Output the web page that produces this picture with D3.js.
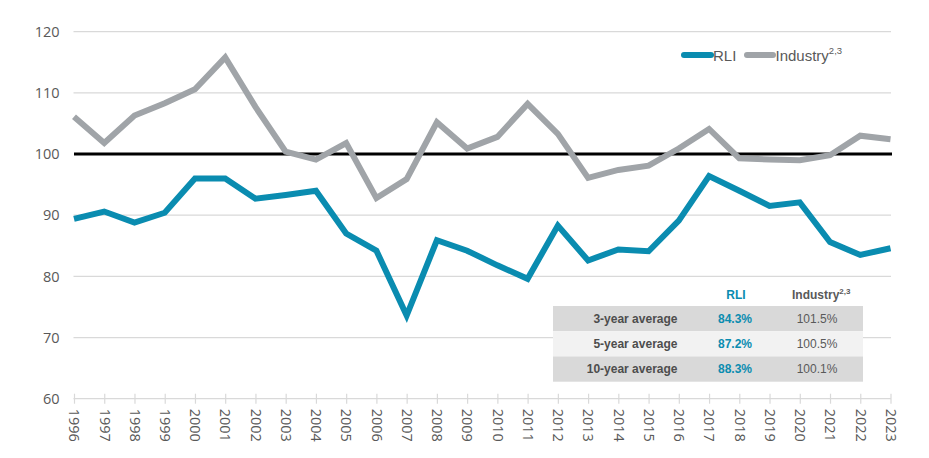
<!DOCTYPE html>
<html>
    <head>
        <meta charset="utf-8">
        <title>RLI vs Industry</title>
        <script src="https://d3js.org/d3.v7.min.js"></script>
        <style>
            body { margin: 0; background: #fff; }
        </style>
    </head>
    <body>
        <div id="main"></div>
        <script>
            // years on the x axis
            var years = d3.range(1996, 2024)
            // series values
            var rli = [89.4, 90.6, 88.8, 90.4, 96.0, 96.0, 92.7, 93.3, 94.0, 87.0,
                       84.2, 73.6, 85.9, 84.2, 81.8, 79.6, 88.3, 82.6, 84.4, 84.1,
                       89.1, 96.4, 94.0, 91.5, 92.1, 85.6, 83.5, 84.6]
            var industry = [106.1, 101.8, 106.3, 108.3, 110.6, 115.8, 107.7, 100.4, 99.1, 101.8,
                            92.8, 95.9, 105.2, 100.9, 102.8, 108.2, 103.3, 96.1, 97.4, 98.1,
                            100.9, 104.1, 99.3, 99.1, 99.0, 99.8, 103.0, 102.4]
            var yTicks = [60, 70, 80, 90, 100, 110, 120]
            // averages table
            var tableRows = ["3-year average", "5-year average", "10-year average"]
            var tableRli = ["84.3%", "87.2%", "88.3%"]
            var tableInd = ["101.5%", "100.5%", "100.1%"]

            var blue = "#0a8cb0"
            var grey = "#a0a4a8"
            var textCol = "#595959"

            var svg = d3.select("#main")
                .append("svg")
                .attr("width", 929)
                .attr("height", 458)

            var x = d3.scalePoint()
                .domain(years)
                .range([74, 890.5])
            var y = d3.scaleLinear()
                .domain([60, 120])
                .range([398.7, 31.7])

            // gridlines
            svg.append("g")
                .selectAll("line")
                .data(yTicks.filter(function(d) { return d != 60 && d != 100 }))
                .enter()
                .append("line")
                .attr("x1", 73.5)
                .attr("x2", 891)
                .attr("y1", function(d) { return y(d) })
                .attr("y2", function(d) { return y(d) })
                .attr("stroke", "#d9d9d9")
                .attr("stroke-width", 1.2)

            // y labels
            svg.append("g")
                .selectAll("text")
                .data(yTicks)
                .enter()
                .append("text")
                .attr("x", 59.5)
                .attr("y", function(d) { return y(d) })
                .attr("dy", "0.36em")
                .attr("text-anchor", "end")
                .attr("font-family", "Open Sans")
                .attr("font-size", "14.5px")
                .attr("fill", textCol)
                .text(function(d) { return d })

            // x axis
            var xAxis = svg.append("g")
                .attr("transform", "translate(0," + y(60) + ")")
                .call(d3.axisBottom(x).tickSize(5).tickSizeOuter(0).tickPadding(0))
            xAxis.select(".domain").attr("stroke", "#d9d9d9").attr("stroke-width", 1.2)
                .attr("d", "M73.5,0H891")
            xAxis.selectAll(".tick line")
                .attr("stroke", "#d9d9d9")
                .attr("stroke-width", 1.2)
                .attr("y1", -5)
            xAxis.selectAll(".tick text")
                .attr("transform", "rotate(90)")
                .attr("x", 10)
                .attr("y", 0)
                .attr("dy", "0.36em")
                .style("text-anchor", "start")
                .attr("font-family", "Open Sans")
                .attr("font-size", "14.5px")
                .attr("fill", textCol)

            // 100 reference line
            svg.append("line")
                .attr("x1", 74)
                .attr("x2", 892)
                .attr("y1", y(100))
                .attr("y2", y(100))
                .attr("stroke", "#000")
                .attr("stroke-width", 3)

            var line = d3.line()
                .x(function(d, i) { return x(years[i]) })
                .y(function(d) { return y(d) })

            svg.append("path")
                .datum(industry)
                .attr("d", line)
                .attr("fill", "none")
                .attr("stroke", grey)
                .attr("stroke-width", 6)
                .attr("stroke-linejoin", "miter")

            svg.append("path")
                .datum(rli)
                .attr("d", line)
                .attr("fill", "none")
                .attr("stroke", blue)
                .attr("stroke-width", 6)
                .attr("stroke-linejoin", "miter")

            // legend
            var legend = svg.append("g").attr("font-family", "Liberation Sans").attr("font-size", "15px").attr("fill", textCol)
            legend.append("line").attr("x1", 684).attr("x2", 711).attr("y1", 55).attr("y2", 55)
                .attr("stroke", blue).attr("stroke-width", 6).attr("stroke-linecap", "round")
            legend.append("text").attr("x", 713).attr("y", 60.5).text("RLI")
            legend.append("line").attr("x1", 747).attr("x2", 773).attr("y1", 55).attr("y2", 55)
                .attr("stroke", grey).attr("stroke-width", 6).attr("stroke-linecap", "round")
            var indLabel = legend.append("text").attr("x", 775.5).attr("y", 60.5)
            indLabel.append("tspan").text("Industry")
            indLabel.append("tspan").attr("font-size", "9.5px").attr("dy", -7).text("2,3")

            // averages table
            var rowY = d3.scaleBand()
                .domain(tableRows)
                .range([306, 381.7])
            var table = svg.append("g").attr("font-family", "Liberation Sans").attr("font-size", "12px")
            table.selectAll("rect")
                .data(tableRows)
                .enter()
                .append("rect")
                .attr("x", 553)
                .attr("width", 310)
                .attr("y", function(d) { return rowY(d) })
                .attr("height", rowY.bandwidth())
                .attr("fill", function(d, i) { return i == 1 ? "#f2f2f2" : "#d9d9d9" })
            table.selectAll("text.lab")
                .data(tableRows)
                .enter()
                .append("text")
                .attr("class", "lab")
                .attr("x", 677.5)
                .attr("y", function(d) { return rowY(d) + rowY.bandwidth() / 2 })
                .attr("dy", "0.36em")
                .attr("text-anchor", "end")
                .attr("font-weight", "bold")
                .attr("fill", "#4d4d4d")
                .text(function(d) { return d })
            table.selectAll("text.rli")
                .data(tableRli)
                .enter()
                .append("text")
                .attr("class", "rli")
                .attr("x", 735)
                .attr("y", function(d, i) { return rowY(tableRows[i]) + rowY.bandwidth() / 2 })
                .attr("dy", "0.36em")
                .attr("text-anchor", "middle")
                .attr("font-weight", "bold")
                .attr("fill", blue)
                .text(function(d) { return d })
            table.selectAll("text.ind")
                .data(tableInd)
                .enter()
                .append("text")
                .attr("class", "ind")
                .attr("x", 817)
                .attr("y", function(d, i) { return rowY(tableRows[i]) + rowY.bandwidth() / 2 })
                .attr("dy", "0.36em")
                .attr("text-anchor", "middle")
                .attr("fill", textCol)
                .text(function(d) { return d })
            // header
            table.append("text").attr("x", 736).attr("y", 299).attr("text-anchor", "middle")
                .attr("font-weight", "bold").attr("fill", blue).text("RLI")
            var hdr = table.append("text").attr("x", 792).attr("y", 299)
                .attr("font-weight", "bold").attr("fill", textCol)
            hdr.append("tspan").text("Industry")
            hdr.append("tspan").attr("font-size", "8px").attr("dy", -5).text("2,3")
        </script>
    </body>
</html>
